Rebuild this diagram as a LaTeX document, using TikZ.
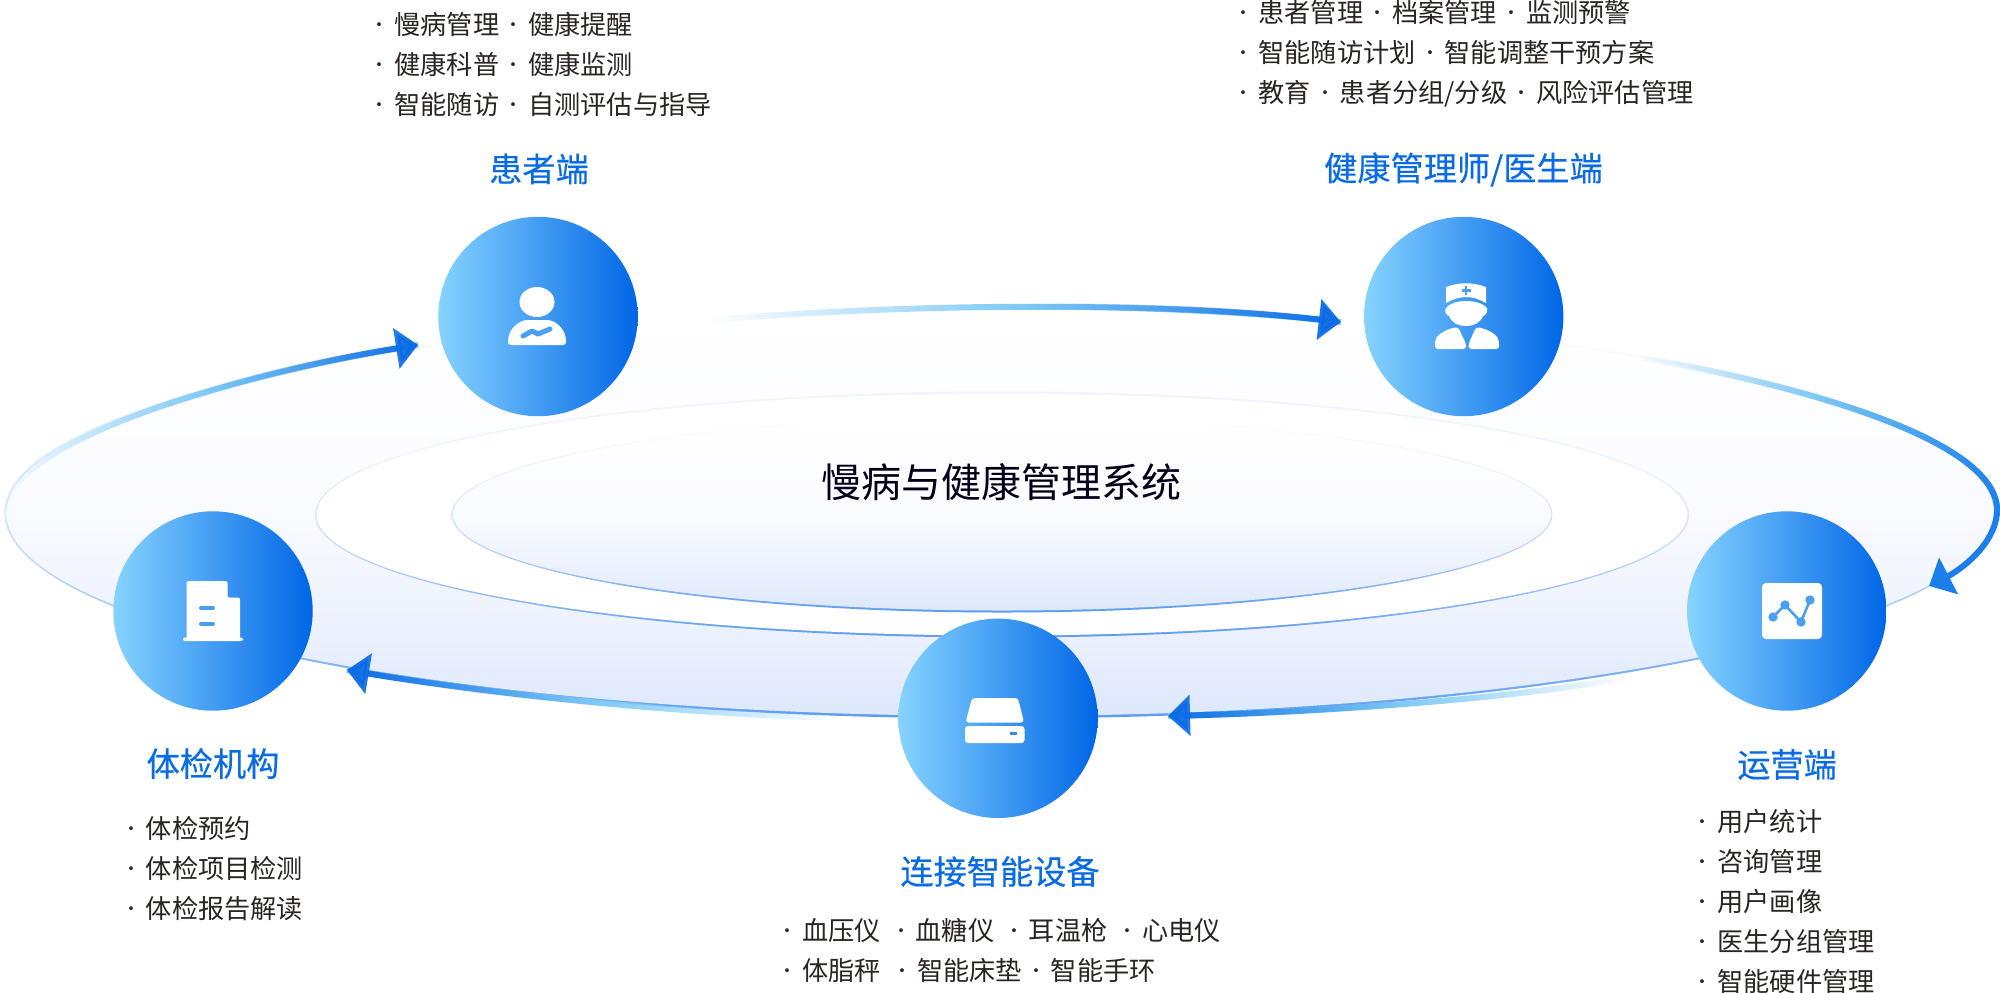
\documentclass[tikz,border=0pt]{standalone}
\usepackage{fontspec}
\setmainfont{Noto Sans CJK SC}
\newfontfamily\headfont[FakeBold=0.4]{Noto Sans CJK SC}
\usetikzlibrary{arrows.meta,fadings}

\definecolor{titleblue}{HTML}{0A6CE4}
\definecolor{bodyink}{HTML}{2A2422}
\definecolor{iconblue}{HTML}{4A9FF1}
\definecolor{discleft}{HTML}{86D3FF}
\definecolor{discright}{HTML}{0066E6}
\definecolor{flowlight}{HTML}{7CC8F5}
\definecolor{flowblue}{HTML}{0A6AE4}
\definecolor{flowturn}{HTML}{1A7FEA}
\definecolor{ringfaint}{HTML}{F0F4FE}
\definecolor{ringhigh}{HTML}{EEF4FD}
\definecolor{ringmid}{HTML}{D8E6FB}
\definecolor{ringquarter}{HTML}{A8C6F7}
\definecolor{ringlow}{HTML}{5B9CF0}
\definecolor{washmid}{HTML}{FAFBFF}
\definecolor{washquarter}{HTML}{EDF2FE}
\definecolor{washlow}{HTML}{DEE8FC}

\pgfdeclareverticalshading{ringlineshade}{100bp}{color(0bp)=(ringlow); color(25bp)=(ringlow); color(37bp)=(ringquarter); color(50bp)=(ringmid); color(62bp)=(ringhigh); color(75bp)=(white); color(100bp)=(white)}
\pgfdeclareverticalshading{ringfaintshade}{100bp}{color(0bp)=(ringlow); color(25bp)=(ringlow); color(37bp)=(ringquarter); color(50bp)=(ringmid); color(62bp)=(ringhigh); color(75bp)=(ringfaint); color(100bp)=(ringfaint)}
\pgfdeclareverticalshading{ringwashshade}{100bp}{color(0bp)=(washlow); color(25bp)=(washlow); color(37bp)=(washquarter); color(50bp)=(washmid); color(75bp)=(white); color(100bp)=(white)}

\tikzfading[name=lighteast, left color=transparent!100, right color=transparent!0, middle color=transparent!0]
\tikzfading[name=lightwest, left color=transparent!0, right color=transparent!100, middle color=transparent!0]
\tikzfading[name=blueeast, left color=transparent!100, right color=transparent!0, middle color=transparent!100]
\tikzfading[name=bluewest, left color=transparent!0, right color=transparent!100, middle color=transparent!100]

\tikzset{
  disc/.style = {circle, minimum size=99.7pt, inner sep=0pt, left color=discleft, right color=discright},
  headtext/.style = {font=\headfont\fontsize{16.6}{20}\selectfont, text=titleblue, inner sep=0pt},
  listtext/.style = {font=\fontsize{13.1}{20}\selectfont, text=bodyink, align=left, anchor=west, inner sep=0pt},
  ringline/.style = {shading=ringlineshade},
  ringfaintline/.style = {shading=ringfaintshade},
  ringwash/.style = {shading=ringwashshade},
  flow/.style = {line width=3pt},
  flowhead/.style = {flow, -{Triangle[length=11pt,width=20pt]}},
  iconline/.style = {draw=iconblue, line cap=round, line join=round}
}

\newcommand{\sep}{\makebox[14.5pt]{\raisebox{1.4pt}{\fontsize{9}{9}\selectfont ·}}}

\begin{document}
\begin{tikzpicture}[x=0.5pt,y=-0.5pt]
\useasboundingbox (0,0) rectangle (2000,992);

\def\ringOuter{(1000,513) ellipse [x radius=993.5, y radius=203]}
\def\ringOuterLine{(1000,513) ellipse [x radius=995.5, y radius=205.5]}
\def\ringMiddle{(1002,514.5) ellipse [x radius=685.5, y radius=121]}
\def\ringMiddleLine{(1002,514.5) ellipse [x radius=687, y radius=123]}
\def\ringInner{(1002,514.5) ellipse [x radius=549, y radius=96]}
\def\ringInnerLine{(1002,514.5) ellipse [x radius=550.5, y radius=98]}

% rings
\shade[ringline] \ringOuterLine;
\shade[ringwash] \ringOuter;
\shade[ringfaintline] \ringMiddleLine;
\fill[white] \ringMiddle;
\shade[ringline] \ringInnerLine;
\shade[ringwash] \ringInner;

\node[font=\fontsize{20}{24}\selectfont, text=black!90!blue, inner sep=0pt] (system) at (1001,482) {慢病与健康管理系统};

% discs
\node[disc] (patient) at (538,316.5) {};
\node[disc] (doctor) at (1463.7,316.5) {};
\node[disc] (operator) at (1786.7,611) {};
\node[disc] (device) at (998,718.3) {};
\node[disc] (exam) at (213,611) {};

% arrow ends
\coordinate (topstart) at (712,320);
\coordinate (topend) at (1341,322);
\coordinate (rightstart) at (1639,357);
\coordinate (rightturn) at (1997,512);
\coordinate (rightend) at (1929,586);
\coordinate (lowstart) at (1627,678);
\coordinate (lowend) at (1168,716);
\coordinate (backstart) at (836,718);
\coordinate (backend) at (347,670);
\coordinate (leftstart) at (4,512);
\coordinate (leftend) at (418,345);

\def\arrowTop{(topstart) .. controls (900,304) and (1150,300) .. (topend)}
\def\arrowRight{(rightstart) .. controls (1800,385) and (2000,440) .. (rightturn)}
\def\arrowTurn{(rightturn) .. controls (1995,545) and (1960,570) .. (rightend)}
\def\arrowLow{(lowstart) .. controls (1500,700) and (1320,712) .. (lowend)}
\def\arrowBack{(backstart) .. controls (650,712) and (480,692) .. (backend)}
\def\arrowLeft{(leftstart) .. controls (10,440) and (230,375) .. (leftend)}

\draw[flow, flowlight, path fading=lighteast] \arrowTop;
\draw[flowhead, flowblue, path fading=blueeast] \arrowTop;
\draw[flow, flowlight, path fading=lighteast] \arrowRight;
\draw[flow, flowturn, path fading=blueeast] \arrowRight;
\draw[flowhead, flowturn] \arrowTurn;
\draw[flow, flowlight, path fading=lightwest] \arrowLow;
\draw[flowhead, flowblue, path fading=bluewest] \arrowLow;
\draw[flow, flowlight, path fading=lightwest] \arrowBack;
\draw[flowhead, flowblue, path fading=bluewest] \arrowBack;
\draw[flow, flowlight, path fading=lighteast] \arrowLeft;
\draw[flowhead, flowblue, path fading=blueeast] \arrowLeft;

% patient icon
\fill[white] (537,302) ellipse [x radius=17.5, y radius=15];
\fill[white, rounded corners=1.5pt] (508,345) -- (508,340) .. controls (510,328) and (520,320) .. (530,320) -- (544,320) .. controls (555,320) and (564,328) .. (566,340) -- (566,345) -- cycle;
\draw[iconline, line width=2.5pt] (523,336) -- (532,331) -- (538,334) -- (550,329);

% doctor icon
\fill[white] (1446,287) .. controls (1460,282) and (1472,282) .. (1486,287) -- (1486,303) .. controls (1472,295) and (1460,295) .. (1446,303) -- cycle;
\draw[iconline, line width=1.3pt, line cap=butt] (1466,286) -- (1466,295) (1461.5,290.5) -- (1470.5,290.5);
\fill[white] (1466,301) .. controls (1476,301) and (1484,304) .. (1487,308) .. controls (1488,312) and (1486,315) .. (1483,316) .. controls (1480,323) and (1474,326) .. (1466,326) .. controls (1458,326) and (1452,323) .. (1449,316) .. controls (1446,315) and (1444,312) .. (1446,308) .. controls (1449,304) and (1456,301) .. (1466,301) -- cycle;
\fill[white, rounded corners=1.5pt] (1435,349) -- (1435,341) .. controls (1438,334) and (1447,329) .. (1458,327) -- (1466,344) -- (1466,349) -- cycle;
\fill[white, rounded corners=1.5pt] (1499,349) -- (1499,341) .. controls (1496,334) and (1487,329) .. (1476,327) -- (1468.5,344) -- (1468.5,349) -- cycle;

% operator icon
\fill[white, rounded corners=2pt] (1762,583) rectangle (1822,639);
\draw[iconline, line width=1.3pt] (1773,617) -- (1785,605) -- (1801,622) -- (1810,600);
\foreach \px/\py in {1773/617, 1785/605, 1801/622, 1810/600}
  \fill[iconblue] (\px,\py) circle [radius=4.7];

% device icon
\fill[white, rounded corners=1.5pt] (972,698) -- (1018,698) -- (1024,722.5) -- (965.5,722.5) -- cycle;
\fill[white, rounded corners=1.5pt] (965,726) -- (1024.5,726) -- (1024.5,743) -- (965,743) -- cycle;
\fill[iconblue!85!blue] (1009.5,732) rectangle (1017,735);

% exam icon
\fill[white, rounded corners=1pt] (186.5,640) -- (186.5,581) -- (227.5,581) -- (227.5,597.5) -- (240,597.5) -- (240,640) -- cycle;
\fill[white, rounded corners=1pt] (183,637.5) rectangle (243,641);
\draw[iconline, line width=2pt] (201,608) -- (213,608) (201,623.5) -- (213,623.5);

% headings
\node[headtext] (patienthead) at (539,169) {患者端};
\node[headtext] (doctorhead) at (1463.5,169.5) {健康管理师/医生端};
\node[headtext] (operatorhead) at (1787,764.5) {运营端};
\node[headtext] (devicehead) at (1000,871.5) {连接智能设备};
\node[headtext] (examhead) at (213,763.5) {体检机构};

% lists
\node[listtext] (patientlist) at (365,64.5) {\sep 慢病管理\sep 健康提醒\\\sep 健康科普\sep 健康监测\\\sep 智能随访\sep 自测评估与指导};
\node[listtext] (doctorlist) at (1229,54) {\sep 患者管理\sep 档案管理\sep 监测预警\\\sep 智能随访计划\sep 智能调整干预方案\\\sep 教育\sep 患者分组/分级\sep 风险评估管理};
\node[listtext] (operatorlist) at (1688,901) {\sep 用户统计\\\sep 咨询管理\\\sep 用户画像\\\sep 医生分组管理\\\sep 智能硬件管理};
\node[listtext] (devicelist) at (773,950) {\sep 血压仪\hspace{2.8pt}\sep 血糖仪\hspace{2.8pt}\sep 耳温枪\hspace{2.8pt}\sep 心电仪\\\sep 体脂秤\hspace{3.5pt}\sep 智能床垫\sep 智能手环};
\node[listtext] (examlist) at (116.5,868.5) {\sep 体检预约\\\sep 体检项目检测\\\sep 体检报告解读};
\end{tikzpicture}
\end{document}
